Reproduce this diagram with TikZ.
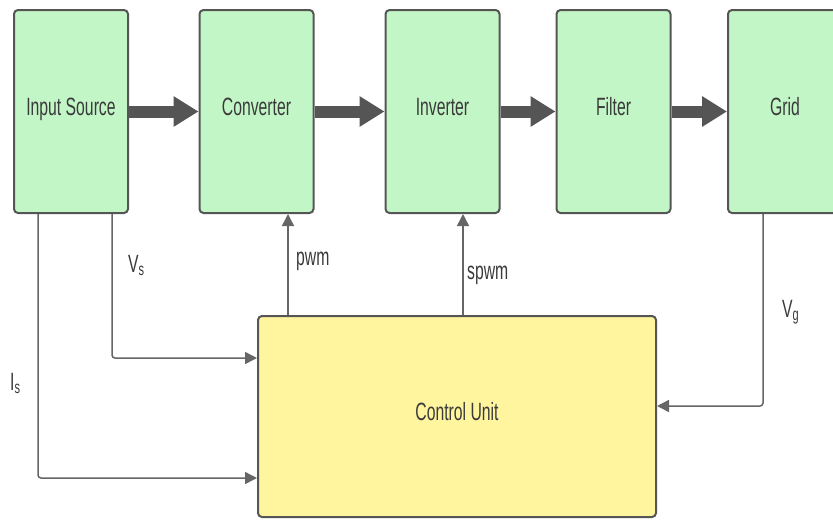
\documentclass[tikz,border=0pt]{standalone}
\usepackage{fontspec}
\newfontfamily\dfont[FakeStretch=0.63]{Liberation Sans}
\usetikzlibrary{arrows.meta}
\definecolor{boxgreen}{HTML}{C3F6C6}
\definecolor{boxyellow}{HTML}{FFF59F}
\definecolor{edge}{HTML}{555555}
\definecolor{wire}{HTML}{666666}
\definecolor{txt}{HTML}{3A3A3A}
\tikzset{
  blk/.style={draw=edge, line width=2pt, rounded corners=4pt, fill=boxgreen,
    minimum width=114pt, minimum height=203pt, inner sep=0pt,
    text height=7pt, text depth=0pt, text=txt,
    font=\dfont\fontsize{25}{28}\selectfont},
  ctl/.style={blk, fill=boxyellow, minimum width=398pt, minimum height=201pt},
  flow/.style={draw=edge, fill=edge, line width=12pt,
    -{Triangle[width=29pt,length=25pt]}},
  sig/.style={draw=wire, line width=1.5pt, rounded corners=3pt,
    -{Triangle[width=12pt,length=12pt]}},
  lbl/.style={anchor=base west, inner sep=0pt, text=txt,
    font=\dfont\fontsize{25}{28}\selectfont}
}
\begin{document}
\begin{tikzpicture}[x=1pt,y=-1pt]
\useasboundingbox (0,0) rectangle (833,520);
\clip (0,0) rectangle (833,520);
\node[blk] (src)  at (71,111.5)  {Input Source};
\node[blk] (conv) at (256.5,111.5) {Converter};
\node[blk] (inv)  at (442.5,111.5) {Inverter};
\node[blk] (filt) at (613.5,111.5) {Filter};
\node[blk] (grid) at (785,111.5) {Grid};
\node[ctl] (ctrl) at (457,416.5) {Control Unit};
\draw[flow] (src.east) -- (conv.west);
\draw[flow] (conv.east) -- (inv.west);
\draw[flow] (inv.east) -- (filt.west);
\draw[flow] (filt.east) -- (grid.west);
\draw[sig] (src.south -| 38,0) |- (ctrl.west |- 0,478);
\draw[sig] (src.south -| 112,0) |- (ctrl.west |- 0,358);
\draw[sig] (ctrl.north -| 288,0) -- (conv.south -| 288,0);
\draw[sig] (ctrl.north -| 463,0) -- (inv.south -| 463,0);
\draw[sig] (grid.south -| 763,0) |- (ctrl.east |- 0,406);
\node[lbl] (lvs) at (128,272) {V\textsubscript{s}};
\node[lbl] (lis) at (10,390) {I\textsubscript{s}};
\node[lbl] (lvg) at (782,317) {V\textsubscript{g}};
\node[lbl] (lpwm) at (296,265) {pwm};
\node[lbl] (lspwm) at (467,279) {spwm};
\end{tikzpicture}
\end{document}
